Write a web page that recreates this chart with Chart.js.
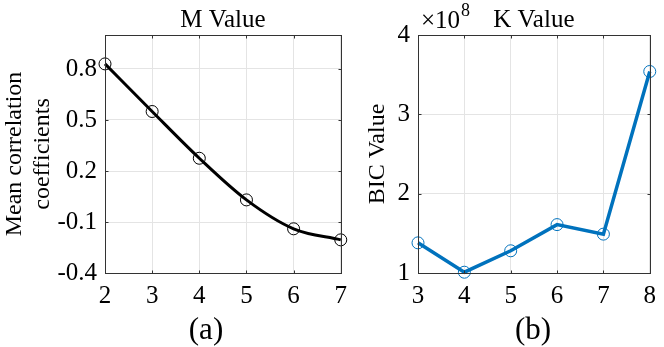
<!DOCTYPE html>
<html>
<head>
<meta charset="utf-8">
<script src="https://cdn.jsdelivr.net/npm/chart.js@4"></script>
<style>
  html, body { margin: 0; padding: 0; background: #fff; }
  body { width: 664px; height: 347px; position: relative; overflow: hidden; }
  canvas { position: absolute; top: 0; }
  #chart-m { left: 0; }
  #chart-k { left: 345px; }
</style>
</head>
<body>
<canvas id="chart-m" width="355" height="347"></canvas>
<canvas id="chart-k" width="319" height="347"></canvas>
<script>
// panel (a): mean correlation coefficients vs M
const mValues = [2, 3, 4, 5, 6, 7];
const meanCorr = [0.83, 0.55, 0.275, 0.03, -0.14, -0.205];
const corrTicks = [-0.4, -0.1, 0.2, 0.5, 0.8];

// panel (b): BIC value vs K
const kValues = [3, 4, 5, 6, 7, 8];
const bicValues = [1.38e8, 1.01e8, 1.28e8, 1.61e8, 1.49e8, 3.54e8];
const bicTicks = [1, 2, 3, 4];

const serif = 'Liberation Serif, Times New Roman, serif';
const gridColor = '#e4e4e4';
const boxColor = '#333333';

// full box with small inward ticks, plus free text (caption, exponent)
const boxPlugin = {
    id: 'boxAndText',
    afterDraw(chart, args, opts) {
        const { ctx, chartArea: a, scales } = chart;
        const L = Math.round(a.left) + 0.5, R = Math.round(a.right) + 0.5;
        const T = Math.round(a.top) + 0.5, B = Math.round(a.bottom) + 0.5;
        ctx.save();
        ctx.strokeStyle = boxColor;
        ctx.lineWidth = 1;
        ctx.strokeRect(L, T, R - L, B - T);
        ctx.beginPath();
        scales.x.ticks.forEach(t => {
            const px = Math.round(scales.x.getPixelForValue(t.value)) + 0.5;
            ctx.moveTo(px, B); ctx.lineTo(px, B - 3);
            ctx.moveTo(px, T); ctx.lineTo(px, T + 3);
        });
        scales.y.ticks.forEach(t => {
            const py = Math.round(scales.y.getPixelForValue(t.value)) + 0.5;
            ctx.moveTo(L, py); ctx.lineTo(L + 3, py);
            ctx.moveTo(R, py); ctx.lineTo(R - 3, py);
        });
        ctx.stroke();
        ctx.fillStyle = '#000';
        ctx.textAlign = 'center';
        ctx.textBaseline = 'middle';
        ctx.font = '31px ' + serif;
        ctx.fillText(opts.caption, opts.captionX, opts.captionY);
        if (opts.exponent) {
            ctx.textAlign = 'left';
            ctx.textBaseline = 'alphabetic';
            ctx.font = '25px ' + serif;
            const x0 = a.left + 3;
            ctx.fillText('\u00d710', x0, 28);
            const w = ctx.measureText('\u00d710').width;
            ctx.font = '18px ' + serif;
            ctx.fillText(opts.exponent, x0 + w + 1, 16);
        }
        ctx.restore();
    }
};

function pts(xs, ys) {
    return xs.map((x, i) => ({ x: x, y: ys[i] }));
}

function panelOptions(cfg) {
    return {
        responsive: false,
        animation: false,
        layout: { padding: { left: 0, right: cfg.padRight, top: 0, bottom: 0 } },
        plugins: {
            legend: { display: false },
            tooltip: { enabled: false },
            title: {
                display: true,
                text: cfg.title,
                fullSize: false,
                color: '#000',
                font: { family: serif, size: 25, weight: 'normal', lineHeight: 1.2 },
                padding: { top: 5, bottom: 0 }
            },
            boxAndText: cfg.text
        },
        scales: {
            x: {
                type: 'linear',
                min: cfg.xMin,
                max: cfg.xMax,
                afterFit: s => { s.height = 74; },
                afterBuildTicks: s => { s.ticks = cfg.xTicks.map(v => ({ value: v })); },
                grid: { color: gridColor, drawTicks: false },
                border: { display: false },
                ticks: {
                    color: '#000',
                    padding: 8,
                    font: { family: serif, size: 25 },
                    callback: v => String(v)
                }
            },
            y: {
                type: 'linear',
                min: cfg.yMin,
                max: cfg.yMax,
                afterFit: s => { s.width = cfg.yWidth; },
                afterBuildTicks: s => { s.ticks = cfg.yTicks.map(v => ({ value: v })); },
                grid: { color: gridColor, drawTicks: false },
                border: { display: false },
                ticks: {
                    color: '#000',
                    padding: 8,
                    font: { family: serif, size: 25 },
                    callback: cfg.yLabel
                },
                title: {
                    display: true,
                    text: cfg.yTitle,
                    color: '#000',
                    font: { family: serif, size: 24, lineHeight: 1.2 },
                    padding: { top: cfg.yTitlePad, bottom: 0 }
                }
            }
        }
    };
}

new Chart(document.getElementById('chart-m'), {
    type: 'line',
    data: {
        datasets: [{
            data: pts(mValues, meanCorr),
            borderColor: '#000',
            borderWidth: 3,
            tension: 0.4,
            cubicInterpolationMode: 'monotone',
            pointRadius: 6,
            pointBorderWidth: 1,
            pointBorderColor: '#000',
            pointBackgroundColor: 'rgba(0,0,0,0)',
            clip: false
        }]
    },
    options: panelOptions({
        title: 'M Value',
        padRight: 12,
        xMin: 2, xMax: 7, xTicks: mValues,
        yMin: -0.4, yMax: 1.0, yTicks: corrTicks,
        yWidth: 105,
        yLabel: v => v.toFixed(1),
        yTitle: ['Mean correlation', 'coefficients'],
        yTitlePad: 0,
        text: { caption: '(a)', captionX: 206, captionY: 331 }
    }),
    plugins: [boxPlugin]
});

new Chart(document.getElementById('chart-k'), {
    type: 'line',
    data: {
        datasets: [{
            data: pts(kValues, bicValues.map(v => v / 1e8)),
            borderColor: '#0072BD',
            borderWidth: 3.5,
            tension: 0,
            pointRadius: 6,
            pointBorderWidth: 1,
            pointBorderColor: '#0072BD',
            pointBackgroundColor: 'rgba(0,0,0,0)',
            clip: false
        }]
    },
    options: panelOptions({
        title: 'K Value',
        padRight: 9,
        xMin: 3, xMax: 8, xTicks: kValues,
        yMin: 1, yMax: 4, yTicks: bicTicks,
        yWidth: 73,
        yLabel: v => String(v),
        yTitle: 'BIC Value',
        yTitlePad: 18,
        text: { caption: '(b)', captionX: 533 - 345, captionY: 331, exponent: '8' }
    }),
    plugins: [boxPlugin]
});
</script>
</body>
</html>
